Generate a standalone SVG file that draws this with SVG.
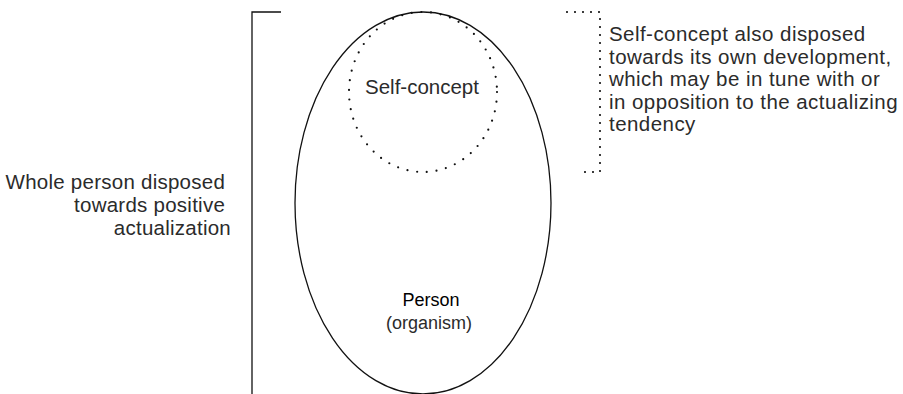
<svg xmlns="http://www.w3.org/2000/svg" width="903" height="394" viewBox="0 0 903 394">
<style>
  .t { font-family: "Liberation Sans", Arial, sans-serif; font-size: 20.5px; letter-spacing: 0.6px; fill: #2b2b2b; }
  .p { font-family: "Liberation Sans", Arial, sans-serif; font-size: 18px; fill: #000; }
  .line { fill: none; stroke: #111; stroke-width: 1.3; }
  .dots { fill: none; stroke: #111; stroke-width: 2.2; stroke-linecap: round; }
</style>
<rect width="903" height="394" fill="#fff"/>
<g id="person">
  <ellipse class="line" cx="423" cy="203" rx="128" ry="191"/>
  <text class="p" x="431" y="306" text-anchor="middle">Person</text>
  <text class="p" x="429" y="329" text-anchor="middle" style="fill:#2b2b2b">(organism)</text>
</g>
<g id="self-concept">
  <ellipse class="dots" cx="423" cy="92" rx="74" ry="80" stroke-dasharray="0 9.75"/>
  <text class="t" x="422" y="94" text-anchor="middle" style="letter-spacing:0">Self-concept</text>
</g>
<g id="whole-person-bracket">
  <polyline class="line" points="281,12 252,12 252,394"/>
  <text class="t" text-anchor="end" style="letter-spacing:0.25px">
    <tspan x="231" y="189">Whole person disposed</tspan>
    <tspan x="231" y="212">towards positive</tspan>
    <tspan x="231" y="235">actualization</tspan>
  </text>
</g>
<g id="self-concept-bracket">
  <polyline class="dots" points="567,12 600,12 600,172 578,172" stroke-dasharray="0 8"/>
  <text class="t" style="letter-spacing:0.45px">
    <tspan x="609" y="41">Self-concept also disposed</tspan>
    <tspan x="609" y="63.5">towards its own development,</tspan>
    <tspan x="609" y="86">which may be in tune with or</tspan>
    <tspan x="609" y="108.5">in opposition to the actualizing</tspan>
    <tspan x="609" y="131">tendency</tspan>
  </text>
</g>
<g id="connectors"></g>
</svg>
